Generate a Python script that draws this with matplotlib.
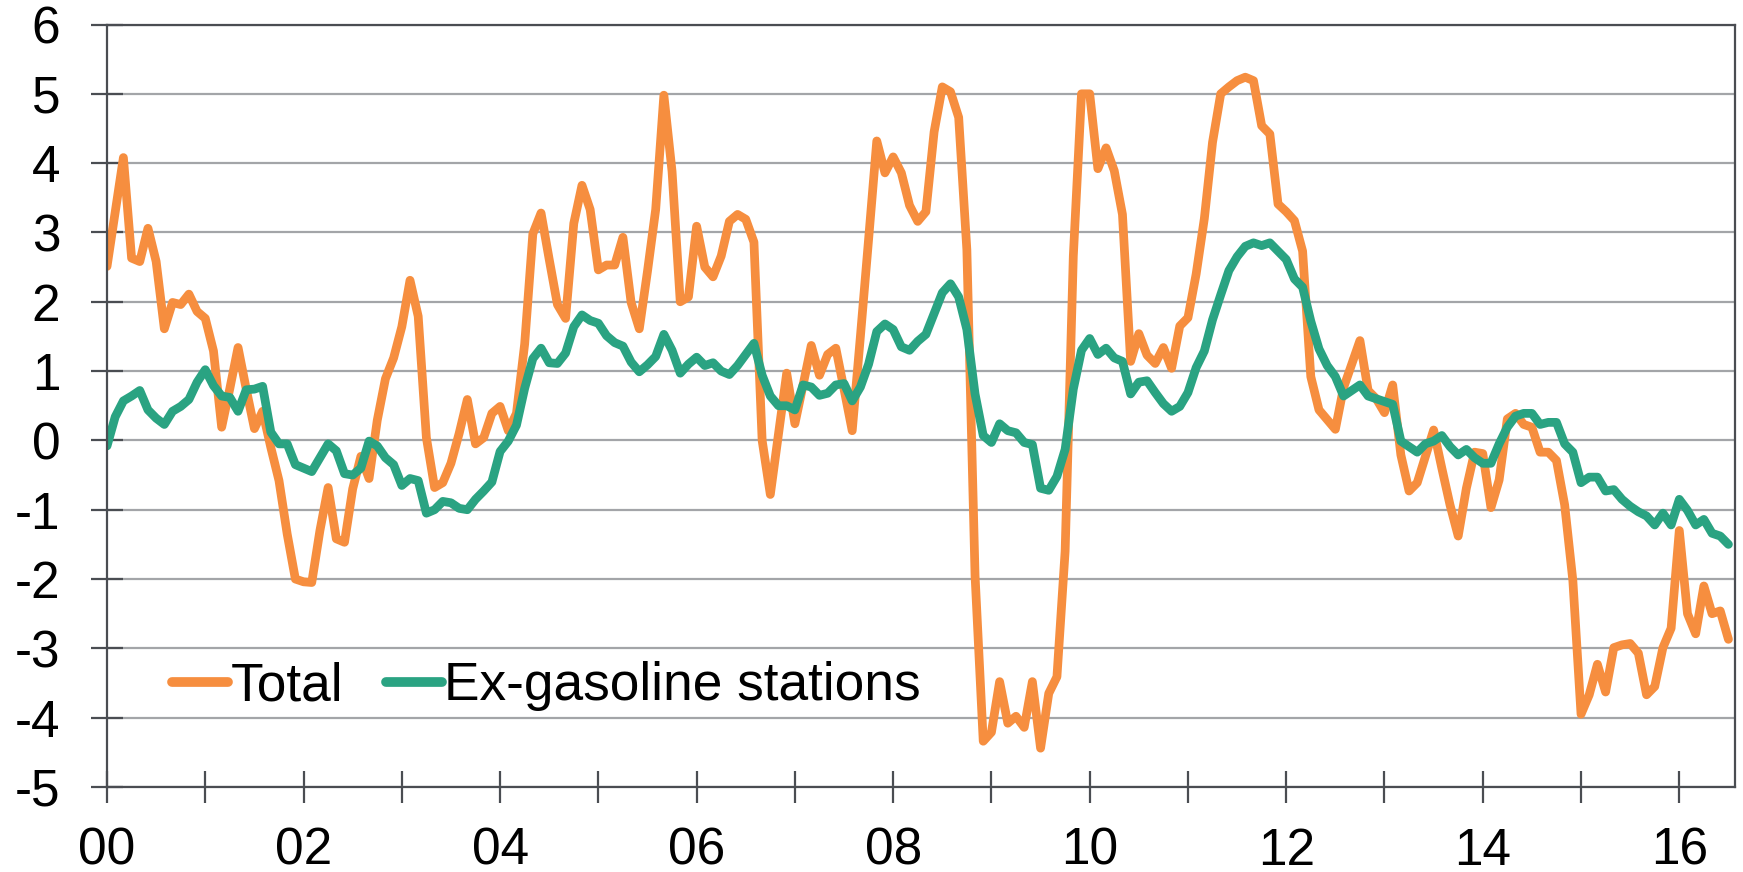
import numpy as np
import matplotlib
matplotlib.use("Agg")
import matplotlib.pyplot as plt
from matplotlib.ticker import FixedLocator, FixedFormatter

plt.rcParams['font.family'] = ['Liberation Sans', 'DejaVu Sans']
plt.rcParams['axes.unicode_minus'] = False

start_year = 2000
series_total = [
    2.51, 3.3, 4.08, 2.63, 2.58, 3.06, 2.58, 1.61, 1.99, 1.96, 2.11, 1.86,
    1.76, 1.29, 0.19, 0.75, 1.34, 0.74, 0.17, 0.42, -0.1, -0.58, -1.35, -2.0,
    -2.04, -2.05, -1.3, -0.68, -1.42, -1.47, -0.7, -0.23, -0.55, 0.29, 0.89, 1.19,
    1.64, 2.31, 1.79, 0.04, -0.68, -0.61, -0.33, 0.1, 0.59, -0.05, 0.04, 0.39,
    0.49, 0.14, 0.39, 1.39, 2.98, 3.28, 2.61, 1.96, 1.76, 3.13, 3.68, 3.33,
    2.46, 2.53, 2.53, 2.93, 1.99, 1.61, 2.44, 3.33, 4.98, 3.88, 2.0, 2.07,
    3.09, 2.5, 2.36, 2.66, 3.16, 3.26, 3.19, 2.86, 0.0, -0.78, 0.1, 0.97,
    0.24, 0.8, 1.37, 0.94, 1.24, 1.33, 0.74, 0.14, 1.5, 2.9, 4.32, 3.86,
    4.09, 3.86, 3.39, 3.16, 3.3, 4.45, 5.1, 5.03, 4.66, 2.75, -1.95, -4.34,
    -4.21, -3.48, -4.08, -3.98, -4.14, -3.48, -4.44, -3.65, -3.41, -1.6, 2.66, 5.0,
    5.0, 3.92, 4.22, 3.89, 3.26, 1.14, 1.54, 1.23, 1.11, 1.34, 1.04, 1.65,
    1.77, 2.4, 3.2, 4.3, 5.0, 5.1, 5.19, 5.24, 5.19, 4.54, 4.42, 3.41,
    3.3, 3.17, 2.73, 0.92, 0.44, 0.3, 0.16, 0.76, 1.1, 1.44, 0.72, 0.6,
    0.4, 0.8, -0.21, -0.73, -0.61, -0.23, 0.15, -0.4, -0.93, -1.38, -0.69, -0.17,
    -0.19, -0.97, -0.57, 0.31, 0.39, 0.23, 0.19, -0.17, -0.17, -0.29, -0.93, -2.02,
    -3.95, -3.67, -3.23, -3.63, -2.99, -2.95, -2.93, -3.07, -3.67, -3.55, -2.99, -2.71,
    -1.3, -2.5, -2.79, -2.1, -2.5, -2.46, -2.87,
]
series_exgas = [
    -0.08, 0.34, 0.57, 0.64, 0.72, 0.44, 0.32, 0.23, 0.42, 0.49, 0.59, 0.84,
    1.02, 0.79, 0.64, 0.62, 0.42, 0.73, 0.74, 0.78, 0.12, -0.05, -0.05, -0.35,
    -0.4, -0.45, -0.25, -0.05, -0.15, -0.48, -0.5, -0.4, -0.01, -0.08, -0.25, -0.35,
    -0.65, -0.55, -0.58, -1.05, -1.0, -0.88, -0.9, -0.98, -1.0, -0.85, -0.73, -0.6,
    -0.16, -0.01, 0.22, 0.75, 1.18, 1.33, 1.12, 1.11, 1.26, 1.64, 1.81, 1.73,
    1.69, 1.51, 1.41, 1.36, 1.13, 0.99, 1.09, 1.21, 1.53, 1.3, 0.97, 1.1,
    1.2, 1.08, 1.12, 1.0, 0.95, 1.08, 1.24, 1.4, 0.94, 0.64, 0.5, 0.5,
    0.44, 0.8, 0.77, 0.65, 0.68, 0.8, 0.82, 0.57, 0.77, 1.1, 1.57, 1.68,
    1.6, 1.35, 1.3, 1.43, 1.53, 1.83, 2.13, 2.26, 2.07, 1.6, 0.67, 0.07,
    -0.03, 0.24, 0.14, 0.11, -0.03, -0.06, -0.69, -0.72, -0.52, -0.13, 0.74, 1.3,
    1.47, 1.24, 1.33, 1.19, 1.14, 0.67, 0.84, 0.86, 0.69, 0.53, 0.42, 0.49,
    0.69, 1.05, 1.29, 1.74, 2.1, 2.45, 2.65, 2.8, 2.85, 2.81, 2.85, 2.73,
    2.61, 2.33, 2.21, 1.72, 1.32, 1.08, 0.92, 0.64, 0.72, 0.8, 0.64, 0.6,
    0.56, 0.52, -0.01, -0.09, -0.17, -0.05, -0.01, 0.07, -0.09, -0.21, -0.13, -0.25,
    -0.33, -0.33, -0.05, 0.19, 0.35, 0.39, 0.39, 0.23, 0.26, 0.26, -0.05, -0.17,
    -0.61, -0.53, -0.53, -0.73, -0.71, -0.85, -0.95, -1.03, -1.09, -1.22, -1.05, -1.22,
    -0.85, -1.01, -1.22, -1.14, -1.34, -1.38, -1.5,
]
series_names = ["Total", "Ex-gasoline stations"]
year_ticks = list(range(2000, 2017))
year_labels = [f"{y % 100:02d}" if y % 2 == 0 else "" for y in year_ticks]
y_ticks = list(range(-5, 7))

x = start_year + np.arange(len(series_total)) / 12.0

fig = plt.figure(figsize=(17.43, 8.72), dpi=100)
ax = fig.add_axes([0.0614, 0.0975, 0.934, 0.8744])

c_orange = '#F68E3F'
c_green = '#2AA382'
ax.plot(x, series_total, color=c_orange, lw=6.3, label=series_names[0],
        solid_joinstyle='round', solid_capstyle='round', zorder=3)
ax.plot(x, series_exgas, color=c_green, lw=6.3, label=series_names[1],
        solid_joinstyle='round', solid_capstyle='round', zorder=4)

ax.set_xlim(2000, 2000 + 198.8 / 12)
ax.set_ylim(-5, 6)
ax.yaxis.set_major_locator(FixedLocator(y_ticks))
ax.set_yticklabels([str(v) for v in y_ticks])
ax.xaxis.set_major_locator(FixedLocator(year_ticks))
ax.xaxis.set_major_formatter(FixedFormatter(year_labels))

ax.grid(axis='y', color='#a3a5a8', lw=1.6, zorder=1)
ax.set_axisbelow(True)
spine_c = '#4a4d52'
for s in ax.spines.values():
    s.set_color(spine_c)
    s.set_linewidth(1.6)
    s.set_zorder(5)

ax.tick_params(axis='both', direction='inout', length=23, width=1.6, color=spine_c,
               labelsize=37, labelcolor='black')
ax.tick_params(axis='x', pad=17)
ax.tick_params(axis='y', pad=22)

leg = ax.legend(loc='center left', bbox_to_anchor=(0.040, 0.132), frameon=False,
                ncol=2, fontsize=38.3, handlelength=1.05, handletextpad=0.05,
                columnspacing=0.8, borderpad=0, borderaxespad=0)
for lh in leg.get_lines():
    lh.set_linewidth(7)

fig.savefig('out.png', dpi=100)
